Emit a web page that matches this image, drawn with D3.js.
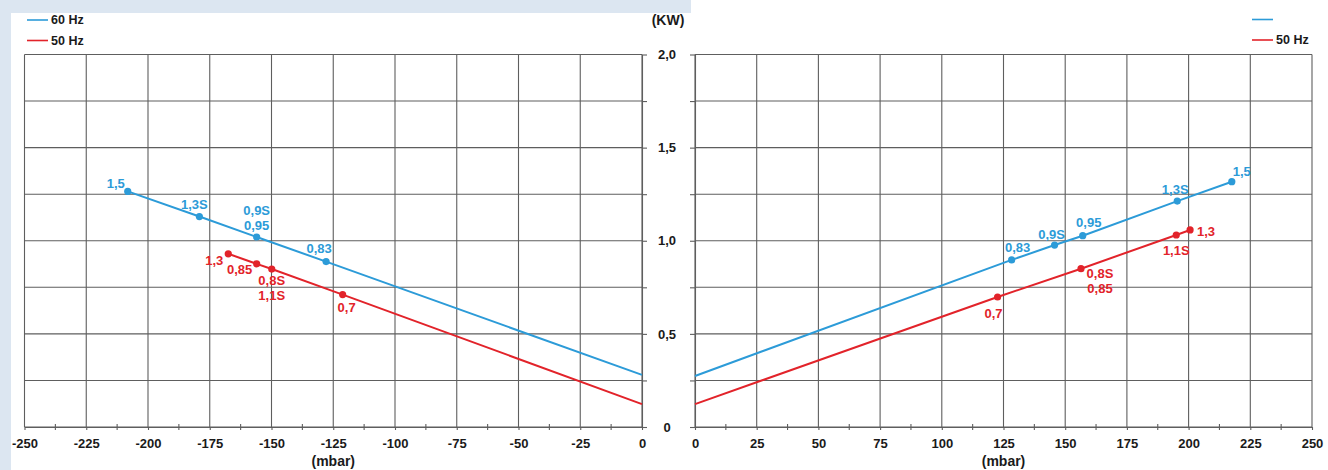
<!DOCTYPE html>
<html>
<head>
<meta charset="utf-8">
<script src="https://cdn.jsdelivr.net/npm/d3@7/dist/d3.min.js"></script>
<style>
    html, body { margin: 0; padding: 0; background: #ffffff; }
    svg { display: block; font-family: "Liberation Sans", Arial, sans-serif; font-weight: bold; }
    .grid line { stroke: #5e5e5e; stroke-width: 1.1; }
    .axis path, .axis line { stroke: #5e5e5e; stroke-width: 1.1; }
    .axis text { fill: #1a1a1a; font-size: 13px; font-weight: bold; }
    .minor line { stroke: #5e5e5e; stroke-width: 1.1; }
    .title { fill: #1a1a1a; font-size: 14px; }
    .legend text { fill: #1a1a1a; font-size: 12.5px; }
    .point-label { font-size: 13px; }
</style>
</head>
<body>
<svg id="chart" width="1328" height="470"></svg>
<script>
// DATA
var vacuumTicks = [-250, -225, -200, -175, -150, -125, -100, -75, -50, -25, 0];
var pressureTicks = [0, 25, 50, 75, 100, 125, 150, 175, 200, 225, 250];
var powerGrid = [0, 0.25, 0.5, 0.75, 1.0, 1.25, 1.5, 1.75, 2.0];
var powerTicks = [0, 0.5, 1.0, 1.5, 2.0];
var powerLabels = ["0", "0,5", "1,0", "1,5", "2,0"];

// vacuum side (negative mbar), last point is the line end at 0 mbar
var vacuum60 = [
    { mbar: -208.2, kw: 1.265, labels: ["1,5"] },
    { mbar: -179.2, kw: 1.130, labels: ["1,3S"] },
    { mbar: -156.0, kw: 1.020, labels: ["0,9S", "0,95"] },
    { mbar: -127.9, kw: 0.888, labels: ["0,83"] },
    { mbar: 0, kw: 0.280, labels: [] }
];
var vacuum50 = [
    { mbar: -167.5, kw: 0.930, labels: ["1,3"] },
    { mbar: -156.0, kw: 0.876, labels: ["0,85"] },
    { mbar: -149.9, kw: 0.848, labels: ["0,8S", "1,1S"] },
    { mbar: -121.2, kw: 0.711, labels: ["0,7"] },
    { mbar: 0, kw: 0.123, labels: [] }
];

// pressure side (positive mbar), first point is the line start at 0 mbar
var pressure60 = [
    { mbar: 0, kw: 0.274, labels: [] },
    { mbar: 128.3, kw: 0.897, labels: ["0,83"] },
    { mbar: 145.7, kw: 0.977, labels: ["0,9S"] },
    { mbar: 157.1, kw: 1.027, labels: ["0,95"] },
    { mbar: 195.4, kw: 1.213, labels: ["1,3S"] },
    { mbar: 217.5, kw: 1.317, labels: ["1,5"] }
];
var pressure50 = [
    { mbar: 0, kw: 0.123, labels: [] },
    { mbar: 122.6, kw: 0.698, labels: ["0,7"] },
    { mbar: 156.4, kw: 0.850, labels: ["0,8S", "0,85"] },
    { mbar: 195.0, kw: 1.031, labels: ["1,1S"] },
    { mbar: 200.6, kw: 1.058, labels: ["1,3"] }
];

// label placement, offset of each label centre from its point (px)
var vacuum60Place = { "1,5": [-12, -8], "1,3S": [-5, -12], "0,9S": [0, -27], "0,95": [0, -12], "0,83": [-7, -13] };
var vacuum50Place = { "1,3": [-14, 7], "0,85": [-17, 6], "0,8S": [0, 11], "1,1S": [0, 26], "0,7": [4, 13] };
var pressure60Place = { "0,83": [6, -12], "0,9S": [-3, -11], "0,95": [6, -13], "1,3S": [-2, -12], "1,5": [10, -10] };
var pressure50Place = { "0,7": [-4, 16], "0,8S": [19, 5], "0,85": [19, 20], "1,1S": [0, 15], "1,3": [16, 2] };

var COLOR_60 = "#2c9bd8";
var COLOR_50 = "#e2232a";


// LAYOUT
var _width = 1328;
var _height = 470;
var _plotTop = 54.5;
var _plotBottom = 427;

var svg = d3.select("#chart");

// page background strips visible around the picture
svg.append("rect").attr("x", 0).attr("y", 0).attr("width", 691).attr("height", 13).attr("fill", "#dce6f1");
svg.append("rect").attr("x", 0).attr("y", 0).attr("width", 11).attr("height", _height).attr("fill", "#dce6f1");

var y = d3.scaleLinear().domain([0, 2]).range([_plotBottom, _plotTop]);


// PRIVATE METHODS
var drawPanel = function(opts) {
    var x = d3.scaleLinear().domain(opts.domain).range(opts.range);
    var g = svg.append("g").classed("panel", true);

    // grid
    var grid = g.append("g").classed("grid", true);
    grid.selectAll(".vgrid")
        .data(opts.ticks)
        .enter()
        .append("line")
            .attr("x1", function(d) { return x(d); })
            .attr("x2", function(d) { return x(d); })
            .attr("y1", _plotTop)
            .attr("y2", _plotBottom);
    grid.selectAll(".hgrid")
        .data(powerGrid)
        .enter()
        .append("line")
            .attr("x1", opts.range[0])
            .attr("x2", opts.range[1])
            .attr("y1", function(d) { return y(d); })
            .attr("y2", function(d) { return y(d); });

    // x axis (plain hyphen for negatives, like the original)
    var xAxis = d3.axisBottom(x)
        .tickValues(opts.ticks)
        .tickSizeInner(3)
        .tickSizeOuter(0)
        .tickPadding(9)
        .tickFormat(function(d) { return String(d); });
    g.append("g")
        .classed("axis", true)
        .attr("transform", "translate(0," + _plotBottom + ")")
        .call(xAxis);

    // minor ticks between the major ones
    var minor = opts.ticks.slice(1).map(function(d, i) { return (d + opts.ticks[i]) / 2; });
    g.append("g").classed("minor", true)
        .selectAll("line")
        .data(minor)
        .enter()
        .append("line")
            .attr("x1", function(d) { return x(d); })
            .attr("x2", function(d) { return x(d); })
            .attr("y1", _plotBottom - 3)
            .attr("y2", _plotBottom + 3);

    // y axis on the inner edge
    var yAxis = (opts.side === "right" ? d3.axisRight(y) : d3.axisLeft(y))
        .tickValues(powerGrid)
        .tickSizeInner(5)
        .tickSizeOuter(0)
        .tickFormat(function(d) {
            var i = powerTicks.indexOf(d);
            return (opts.side === "right" && i >= 0) ? powerLabels[i] : "";
        });
    var yG = g.append("g")
        .classed("axis", true)
        .attr("transform", "translate(" + opts.axisX + ",0)")
        .call(yAxis);
    yG.selectAll("text")
        .attr("x", 25)
        .style("text-anchor", "middle");

    // x title
    g.append("text")
        .classed("title", true)
        .attr("x", (opts.range[0] + opts.range[1]) / 2)
        .attr("y", 466)
        .style("text-anchor", "middle")
        .text("(mbar)");

    // series
    var line = d3.line()
        .x(function(d) { return x(d.mbar); })
        .y(function(d) { return y(d.kw); });

    opts.series.forEach(function(s) {
        var sg = g.append("g").classed("series", true);

        sg.append("path")
            .datum(s.data)
            .attr("d", line)
            .attr("fill", "none")
            .attr("stroke", s.color)
            .attr("stroke-width", 2);

        var pts = s.data.filter(function(d) { return d.labels.length > 0; });

        sg.selectAll("circle")
            .data(pts)
            .enter()
            .append("circle")
                .attr("cx", function(d) { return x(d.mbar); })
                .attr("cy", function(d) { return y(d.kw); })
                .attr("r", 3.6)
                .attr("fill", s.color);

        var labels = [];
        pts.forEach(function(d) {
            d.labels.forEach(function(t) {
                labels.push({ text: t, px: x(d.mbar), py: y(d.kw), off: s.place[t] });
            });
        });

        sg.selectAll(".point-label")
            .data(labels)
            .enter()
            .append("text")
                .classed("point-label", true)
                .attr("x", function(d) { return d.px + d.off[0]; })
                .attr("y", function(d) { return d.py + d.off[1]; })
                .attr("dy", ".35em")
                .attr("fill", s.color)
                .style("text-anchor", "middle")
                .text(function(d) { return d.text; });
    });
};

var drawLegend = function(x0, y0, items) {
    var lg = svg.append("g").classed("legend", true);
    items.forEach(function(item, i) {
        var yy = y0 + i * 20.5;
        lg.append("line")
            .attr("x1", x0)
            .attr("x2", x0 + 21)
            .attr("y1", yy)
            .attr("y2", yy)
            .attr("stroke", item.color)
            .attr("stroke-width", 1.6);
        if (item.text) {
            lg.append("text")
                .attr("x", x0 + 24)
                .attr("y", yy)
                .attr("dy", ".35em")
                .text(item.text);
        }
    });
};


// DRAW
drawPanel({
    domain: [-250, 0],
    range: [24.5, 642],
    ticks: vacuumTicks,
    side: "right",
    axisX: 642,
    series: [
        { data: vacuum60, color: COLOR_60, place: vacuum60Place },
        { data: vacuum50, color: COLOR_50, place: vacuum50Place }
    ]
});

drawPanel({
    domain: [0, 250],
    range: [695, 1312],
    ticks: pressureTicks,
    side: "left",
    axisX: 695,
    series: [
        { data: pressure60, color: COLOR_60, place: pressure60Place },
        { data: pressure50, color: COLOR_50, place: pressure50Place }
    ]
});

// unit of the shared y axis
svg.append("text")
    .classed("title", true)
    .attr("x", 668)
    .attr("y", 25)
    .style("text-anchor", "middle")
    .text("(KW)");

drawLegend(27, 20, [
    { color: COLOR_60, text: "60 Hz" },
    { color: COLOR_50, text: "50 Hz" }
]);
drawLegend(1252, 19.5, [
    { color: COLOR_60, text: "" },
    { color: COLOR_50, text: "50 Hz" }
]);
</script>
</body>
</html>
